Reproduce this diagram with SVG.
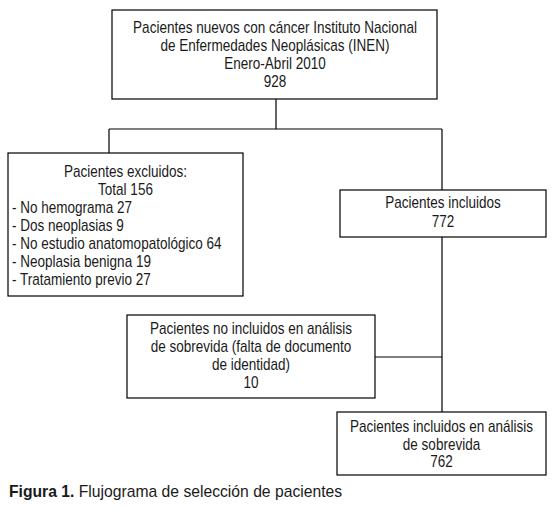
<svg xmlns="http://www.w3.org/2000/svg" width="554" height="508" viewBox="0 0 554 508">
<style>
.box{fill:#fff;stroke:#000;stroke-width:1.2}
.t{font-family:"Liberation Sans",Arial,sans-serif;font-size:16px;fill:#1a1a1a}
.c{text-anchor:middle}
.ln{stroke:#000;stroke-width:1.2;fill:none}
.cap{font-family:"Liberation Sans",Arial,sans-serif;font-size:15.7px;fill:#1a1a1a}
</style>
<rect width="554" height="508" fill="#fff"/>
<g id="connectors">
<path class="ln" d="M276 99V129M109 129H442M109 129V153M442 129V190M442 237V412M375 357H442"/>
</g>
<g id="n-nuevos">
<rect class="box" x="112" y="10" width="325" height="89"/>
<g transform="translate(275,0) scale(0.845,1)">
<text class="t c" x="0" y="33">Pacientes nuevos con cáncer Instituto Nacional</text>
<text class="t c" x="0" y="51">de Enfermedades Neoplásicas (INEN)</text>
<text class="t c" x="0" y="69">Enero-Abril 2010</text>
<text class="t c" x="0" y="87">928</text>
</g>
</g>
<g id="n-excluidos">
<rect class="box" x="8" y="153" width="235" height="143"/>
<g transform="translate(125.5,0) scale(0.845,1)">
<text class="t c" x="0" y="177">Pacientes excluidos:</text>
<text class="t c" x="0" y="195">Total 156</text>
</g>
<g transform="translate(12,0) scale(0.845,1)">
<text class="t" x="0" y="213">- No hemograma 27</text>
<text class="t" x="0" y="231">- Dos neoplasias 9</text>
<text class="t" x="0" y="249">- No estudio anatomopatológico 64</text>
<text class="t" x="0" y="267">- Neoplasia benigna 19</text>
<text class="t" x="0" y="285">- Tratamiento previo 27</text>
</g>
</g>
<g id="n-incluidos">
<rect class="box" x="340" y="190" width="206" height="47"/>
<g transform="translate(443,0) scale(0.845,1)">
<text class="t c" x="0" y="208">Pacientes incluidos</text>
<text class="t c" x="0" y="227">772</text>
</g>
</g>
<g id="n-no-incluidos">
<rect class="box" x="127" y="315" width="248" height="83"/>
<g transform="translate(251,0) scale(0.845,1)">
<text class="t c" x="0" y="334">Pacientes no incluidos en análisis</text>
<text class="t c" x="0" y="352">de sobrevida (falta de documento</text>
<text class="t c" x="0" y="370">de identidad)</text>
<text class="t c" x="0" y="388">10</text>
</g>
</g>
<g id="n-sobrevida">
<rect class="box" x="337" y="412" width="209" height="63"/>
<g transform="translate(441.5,0) scale(0.845,1)">
<text class="t c" x="0" y="432">Pacientes incluidos en análisis</text>
<text class="t c" x="0" y="450">de sobrevida</text>
<text class="t c" x="0" y="467">762</text>
</g>
</g>
<text class="cap" x="9" y="497"><tspan font-weight="bold">Figura 1.</tspan> Flujograma de selección de pacientes</text>
</svg>
